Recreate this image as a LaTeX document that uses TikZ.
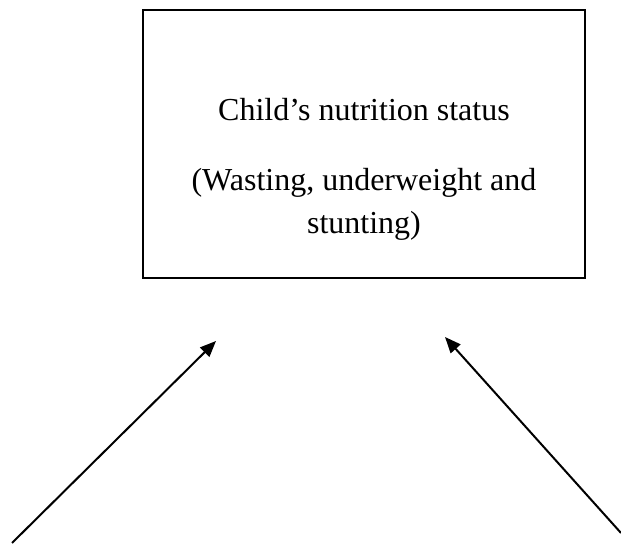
\documentclass[tikz,border=0pt]{standalone}
\usepackage{fontspec}
\setmainfont{Liberation Serif}
\usetikzlibrary{arrows.meta}

\begin{document}
\begin{tikzpicture}[x=1pt,y=1pt,
    statusbox/.style={draw, line width=2pt, minimum width=442pt, minimum height=268pt, inner sep=0pt},
    arrowline/.style={line width=2pt, -{Triangle[length=16pt,width=13pt]}}]
                % Frame of the page
                \useasboundingbox (0,0) rectangle (621,545);

                % Outcome box
                \node[statusbox] (status) at (364,401) {};
                \node[align=center, font=\fontsize{32}{43}\selectfont] (statustext) at (364,376)
                    {Child’s nutrition status\\[27pt] (Wasting, underweight and\\ stunting)};

                % Arrows pointing up to the box
                \coordinate (lefttail) at (12,2);
                \coordinate (lefthead) at (216,204);
                \coordinate (righttail) at (621,12);
                \coordinate (righthead) at (445,208);
                \draw[arrowline] (lefttail) -- (lefthead);
                \draw[arrowline] (righttail) -- (righthead);
            \end{tikzpicture}
\end{document}
